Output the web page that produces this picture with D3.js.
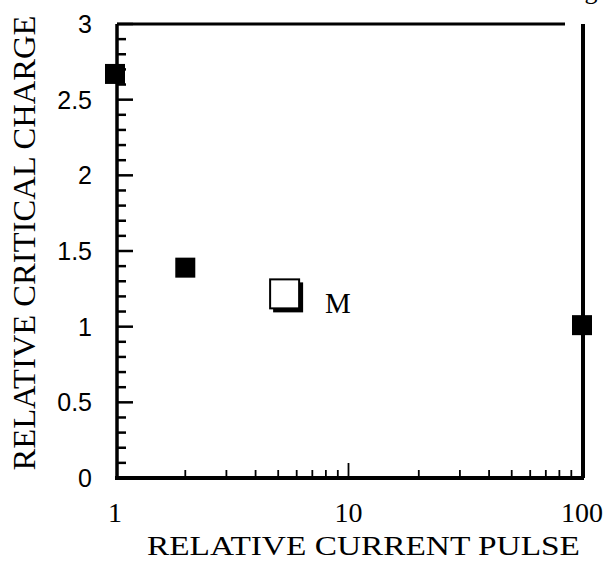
<!DOCTYPE html>
<html>
<head>
<meta charset="utf-8">
<script src="https://cdn.jsdelivr.net/npm/d3@7/dist/d3.min.js"></script>
<style>
  body { margin: 0; background: #fff; }
  svg { display: block; }
</style>
</head>
<body>
<div id="chart"></div>
<script>
// data
const filledX = [1, 2, 100];
const filledY = [2.67, 1.39, 1.01];
const openX = [5.3];
const openY = [1.22];
const openLabels = ['M'];
const yMajorTicks = [0, 0.5, 1, 1.5, 2, 2.5, 3];
const yTickLabels = ['0', '0.5', '1', '1.5', '2', '2.5', '3'];
const xMajorTicks = [1, 10, 100];
const xTickLabels = ['1', '10', '100'];

const width = 606;
const height = 561;

const svg = d3.select('#chart').append('svg')
  .attr('width', width)
  .attr('height', height);

const x = d3.scaleLog().domain([1, 100]).range([115, 582]);
const y = d3.scaleLinear().domain([0, 3]).range([478, 24]);

const axisX = x(1) + 2;

// y ticks: every 0.1, longer every 0.5, pointing into the plot
let yMinor = d3.range(0, 31).map(i => i / 10);
svg.append('g').selectAll('line')
  .data(yMinor)
  .enter().append('line')
    .attr('x1', axisX)
    .attr('x2', d => axisX + (Math.abs(d * 2 - Math.round(d * 2)) < 1e-6 ? 16 : 9))
    .attr('y1', d => y(d))
    .attr('y2', d => y(d))
    .attr('stroke', '#000')
    .attr('stroke-width', 2.5);

svg.append('g').selectAll('text')
  .data(yMajorTicks)
  .enter().append('text')
    .attr('x', axisX - 25)
    .attr('y', d => y(d))
    .attr('dy', '0.36em')
    .attr('text-anchor', 'end')
    .style('font-family', 'Liberation Sans, Arial, sans-serif')
    .style('font-size', '25px')
    .text((d, i) => yTickLabels[i]);

// x ticks: log minor ticks pointing up
let xMinor = x.ticks().filter(v => xMajorTicks.indexOf(v) < 0);
svg.append('g').selectAll('line')
  .data(xMinor.concat([10]))
  .enter().append('line')
    .attr('x1', d => x(d))
    .attr('x2', d => x(d))
    .attr('y1', y(0))
    .attr('y2', d => y(0) - (d === 10 ? 15 : 8))
    .attr('stroke', '#000')
    .attr('stroke-width', 1.8);

svg.append('g').selectAll('text')
  .data(xMajorTicks)
  .enter().append('text')
    .attr('x', d => x(d))
    .attr('y', 522)
    .attr('text-anchor', 'middle')
    .style('font-family', 'Liberation Serif, Times New Roman, serif')
    .style('font-size', '28px')
    .text((d, i) => xTickLabels[i]);

// frame
const frame = svg.append('g').attr('stroke', '#000').attr('fill', 'none');
frame.append('line')
  .attr('x1', axisX).attr('x2', axisX)
  .attr('y1', y(3)).attr('y2', y(0) + 1)
  .attr('stroke-width', 3.5);
frame.append('line')
  .attr('x1', x(1)).attr('x2', x(100) + 2)
  .attr('y1', y(0)).attr('y2', y(0))
  .attr('stroke-width', 4);
frame.append('line')
  .attr('x1', axisX).attr('x2', 565)
  .attr('y1', y(3)).attr('y2', y(3))
  .attr('stroke-width', 3);
frame.append('line')
  .attr('x1', x(100) + 1).attr('x2', x(100) + 1)
  .attr('y1', y(3)).attr('y2', y(0))
  .attr('stroke-width', 4);

// filled squares
svg.append('g').selectAll('rect')
  .data(filledX.map((v, i) => ({ x: v, y: filledY[i] })))
  .enter().append('rect')
    .attr('x', d => x(d.x) - 10)
    .attr('y', d => y(d.y) - 10)
    .attr('width', 20)
    .attr('height', 20)
    .attr('fill', '#000');

// open square with drop shadow
const open = svg.append('g').selectAll('g')
  .data(openX.map((v, i) => ({ x: v, y: openY[i], label: openLabels[i] })))
  .enter().append('g')
    .attr('transform', d => `translate(${x(d.x)},${y(d.y)})`);

open.append('rect')
  .attr('x', -11).attr('y', -11)
  .attr('width', 30).attr('height', 30)
  .attr('fill', '#000');
open.append('rect')
  .attr('x', -14).attr('y', -14)
  .attr('width', 29).attr('height', 29)
  .attr('fill', '#fff')
  .attr('stroke', '#000')
  .attr('stroke-width', 2);
open.append('text')
  .attr('x', 41)
  .attr('y', 20)
  .style('font-family', 'Liberation Serif, Times New Roman, serif')
  .style('font-size', '29px')
  .text(d => d.label);

// axis titles
svg.append('text')
  .attr('transform', 'translate(35,243) rotate(-90)')
  .attr('text-anchor', 'middle')
  .attr('textLength', 455)
  .attr('lengthAdjust', 'spacingAndGlyphs')
  .style('font-family', 'Liberation Serif, Times New Roman, serif')
  .style('font-size', '32px')
  .text('RELATIVE CRITICAL CHARGE');

svg.append('text')
  .attr('x', 147)
  .attr('y', 555)
  .attr('textLength', 433)
  .attr('lengthAdjust', 'spacingAndGlyphs')
  .style('font-family', 'Liberation Serif, Times New Roman, serif')
  .style('font-size', '27px')
  .text('RELATIVE CURRENT PULSE');

// cropped caption at the top edge
svg.append('text')
  .attr('x', 604)
  .attr('y', -1)
  .attr('text-anchor', 'end')
  .style('font-family', 'Liberation Serif, Times New Roman, serif')
  .style('font-size', '26px')
  .text('Fig.');
</script>
</body>
</html>
